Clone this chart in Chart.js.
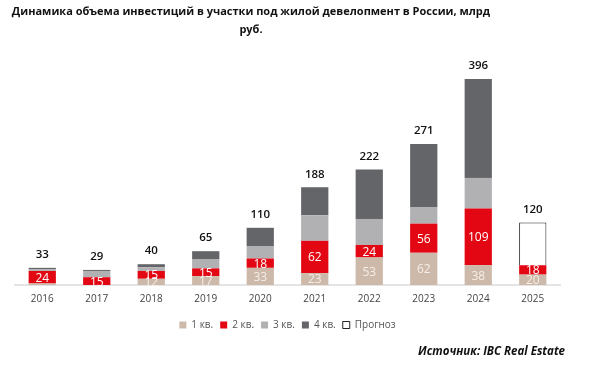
<!DOCTYPE html>
<html>
<head>
<meta charset="utf-8">
<script src="https://cdn.jsdelivr.net/npm/chart.js@4.4.0/dist/chart.umd.min.js"></script>
<style>
  body { margin: 0; background: #fff; }
  #wrap { position: relative; width: 600px; height: 369px; }
  #title {
    position: absolute; left: 0; top: 2px; width: 502px;
    text-align: center; font: bold 11px "Open Sans", sans-serif;
    line-height: 18px; color: #111; white-space: nowrap;
  }
  #source {
    position: absolute; right: 35px; top: 343px;
    font: italic bold 11.5px "Open Sans", sans-serif; color: #111;
  }
  canvas { position: absolute; left: 0; top: 0; }
</style>
</head>
<body>
<div id="wrap">
  <canvas id="myChart" width="600" height="369"></canvas>
  <div id="title">Динамика объема инвестиций в участки под жилой девелопмент в России, млрд<br>руб.</div>
  <div id="source">Источник: IBC Real Estate</div>
</div>
<script>
'use strict';

let years = ['2016','2017','2018','2019','2020','2021','2022','2023','2024','2025'];
let q1 = [3, 0, 12, 17, 33, 23, 53, 62, 38, 20];
let q2 = [24, 15, 15, 15, 18, 62, 24, 56, 109, 18];
let q3 = [3, 12, 7, 17, 24, 49, 50, 32, 59, null];
let q4 = [3, 2, 6, 16, 35, 54, 95, 121, 190, null];
let forecast = [null, null, null, null, null, null, null, null, null, 82];
let totals = [33, 29, 40, 65, 110, 188, 222, 271, 396, 120];

// labels inside segments + totals on top
let labelPlugin = {
    id: 'labels',
    afterDatasetsDraw(chart) {
        let ctx = chart.ctx;
        ctx.save();
        ctx.textAlign = 'center';
        ctx.textBaseline = 'middle';
        ctx.font = '12px "Open Sans"';
        [0, 1].forEach(function (di) {
            let meta = chart.getDatasetMeta(di);
            let vals = chart.data.datasets[di].data;
            meta.data.forEach(function (bar, i) {
                if (vals[i] >= 10) {
                    ctx.fillStyle = di === 0 ? '#f4eee9' : '#ffffff';
                    ctx.fillText(vals[i], bar.x, (bar.y + bar.base) / 2 + 1);
                }
            });
        });
        ctx.font = '600 11.5px "Open Sans"';
        ctx.fillStyle = '#111';
        let scaleY = chart.scales.y;
        let scaleX = chart.scales.x;
        totals.forEach(function (t, i) {
            ctx.fillText(t, scaleX.getPixelForValue(i), scaleY.getPixelForValue(t) - 13);
        });
        ctx.restore();
    }
};

function createChart() {
    let ctx = document.getElementById('myChart').getContext('2d');

    let myChart = new Chart(ctx, {
        type: 'bar',
        data: {
            labels: years,
            datasets: [
                { label: '1 кв.', data: q1, backgroundColor: '#cdb9a9' },
                { label: '2 кв.', data: q2, backgroundColor: '#e30613' },
                { label: '3 кв.', data: q3, backgroundColor: '#b1b1b3' },
                { label: '4 кв.', data: q4, backgroundColor: '#646569' },
                { label: 'Прогноз', data: forecast, backgroundColor: '#ffffff',
                  borderColor: '#222', borderWidth: 1 }
            ]
        },
        options: {
            responsive: false,
            animation: false,
            layout: { padding: { left: 15, right: 40, top: 51, bottom: 29 } },
            datasets: {
                bar: { categoryPercentage: 1, barPercentage: 0.5 }
            },
            scales: {
                x: {
                    stacked: true,
                    grid: { display: false, drawTicks: false },
                    border: { display: true, color: '#e4e4e4', width: 2 },
                    ticks: { color: '#444', font: { family: 'Open Sans', size: 10 }, padding: 8 }
                },
                y: {
                    stacked: true,
                    display: false,
                    min: 0,
                    max: 450
                }
            },
            plugins: {
                legend: {
                    position: 'bottom',
                    labels: {
                        boxWidth: 7, boxHeight: 7, padding: 7,
                        color: '#555', font: { family: 'Open Sans', size: 10 }
                    }
                },
                tooltip: { enabled: false }
            }
        },
        plugins: [labelPlugin]
    });
}

createChart()
</script>
</body>
</html>
